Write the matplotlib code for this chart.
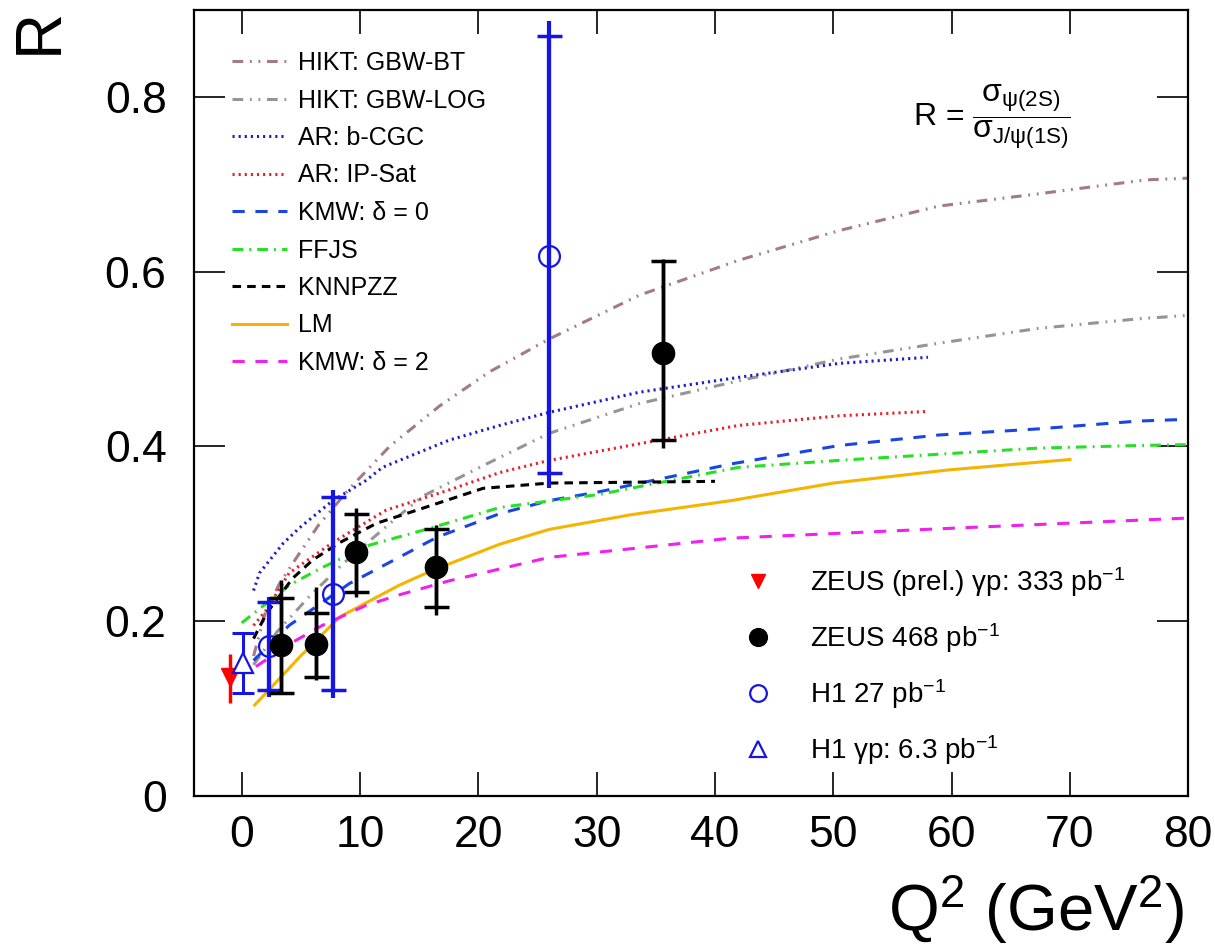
import matplotlib
matplotlib.use("Agg")
import matplotlib.pyplot as plt
import numpy as np

plt.rcParams['font.family'] = ['Liberation Sans', 'DejaVu Sans']
plt.rcParams['mathtext.fontset'] = 'custom'
plt.rcParams['mathtext.rm'] = 'Liberation Sans'
plt.rcParams['mathtext.it'] = 'Liberation Sans'
plt.rcParams['mathtext.bf'] = 'Liberation Sans:bold'

# ---------------- theory curves ----------------
bt_x = [1, 2, 3.2, 4.6, 6.5, 9, 12.5, 16.7, 20.9, 26, 33.6, 42, 50.5, 58.9, 67.3, 76.4, 80]
bt_y = [0.16, 0.21, 0.243, 0.272, 0.31, 0.35, 0.40, 0.446, 0.485, 0.523, 0.573, 0.613, 0.647, 0.675, 0.689, 0.705, 0.707]

log_x = [1, 3, 5.7, 8.5, 12.8, 15.3, 20.4, 26, 33.6, 42, 50.5, 58.9, 67.3, 75.8, 80]
log_y = [0.15, 0.188, 0.228, 0.265, 0.315, 0.343, 0.378, 0.415, 0.449, 0.475, 0.5, 0.518, 0.535, 0.546, 0.55]

cgc_x = [1, 1.5, 3.5, 4.9, 7.7, 10.5, 11.9, 17.5, 21.8, 26, 33.6, 42, 50.5, 58]
cgc_y = [0.235, 0.255, 0.289, 0.307, 0.338, 0.361, 0.376, 0.407, 0.424, 0.439, 0.462, 0.479, 0.495, 0.502]

ips_x = [1, 2.1, 4, 7.7, 12.2, 17.5, 21.8, 26, 33.6, 42, 50.5, 58]
ips_y = [0.195, 0.213, 0.255, 0.29, 0.327, 0.35, 0.37, 0.384, 0.403, 0.424, 0.435, 0.44]

kmw0_x = [1, 4, 9.1, 13.3, 16.5, 21.8, 26, 30.2, 41.4, 50.5, 58.9, 67.3, 75.8, 80]
kmw0_y = [0.155, 0.195, 0.243, 0.273, 0.296, 0.323, 0.338, 0.348, 0.38, 0.401, 0.413, 0.42, 0.429, 0.431]

ffjs_x = [0, 4, 6.6, 10.8, 16.1, 21.8, 30.2, 42, 50.5, 58.9, 67.3, 75.8, 80]
ffjs_y = [0.198, 0.241, 0.26, 0.287, 0.307, 0.33, 0.345, 0.376, 0.384, 0.391, 0.398, 0.401, 0.402]

knn_x = [1, 2.1, 4.3, 6, 8.3, 11.4, 14.8, 20.4, 26, 33, 40]
knn_y = [0.18, 0.209, 0.249, 0.27, 0.29, 0.312, 0.327, 0.352, 0.358, 0.359, 0.36]

lm_x = [1.1, 4.9, 8.3, 13.3, 16.1, 21.8, 26, 33, 41.4, 50, 59.7, 70]
lm_y = [0.104, 0.159, 0.205, 0.241, 0.258, 0.288, 0.305, 0.322, 0.338, 0.358, 0.373, 0.385]

kmw2_x = [1.2, 4.2, 6.8, 10.5, 13.3, 17.5, 26, 33, 41.4, 59.5, 80]
kmw2_y = [0.148, 0.175, 0.195, 0.218, 0.23, 0.246, 0.273, 0.283, 0.295, 0.306, 0.318]

# ---------------- data ----------------
zp_x = [-1.0]; zp_y = [0.136]; zp_lo = [0.106]; zp_hi = [0.162]

h1g_x = [0.1]; h1g_y = [0.152]; h1g_lo = [0.118]; h1g_hi = [0.186]

h1_x = [2.3, 7.7, 26.0]
h1_y = [0.171, 0.231, 0.618]
h1_tot_lo = [0.113, 0.112, 0.352]
h1_tot_hi = [0.228, 0.350, 0.887]
h1_st_lo = [0.121, 0.121, 0.370]
h1_st_hi = [0.222, 0.342, 0.870]

ze_x = [3.3, 6.25, 9.7, 16.4, 35.6]
ze_y = [0.173, 0.174, 0.279, 0.262, 0.507]
ze_tot_lo = [0.118, 0.133, 0.228, 0.207, 0.398]
ze_tot_hi = [0.247, 0.239, 0.330, 0.310, 0.615]
ze_st_lo = [0.118, 0.136, 0.233, 0.216, 0.407]
ze_st_hi = [0.226, 0.209, 0.323, 0.306, 0.612]

x_ticks = [0, 10, 20, 30, 40, 50, 60, 70, 80]
y_ticks = [0, 0.2, 0.4, 0.6, 0.8]
y_ticklabels = ['0', '0.2', '0.4', '0.6', '0.8']

fig = plt.figure(figsize=(12.15, 9.52), dpi=100)
ax = fig.add_axes([0.160, 0.164, 0.818, 0.826])
ax.set_xlim(-4, 80)
ax.set_ylim(0, 0.9)

lw = 2.2
curves = [
    (bt_x, bt_y, '#a37b84', (0, (3.5, 2.2, 0.6, 2.2, 0.6, 2.2)), 'HIKT: GBW-BT'),
    (log_x, log_y, '#959595', (0, (3.5, 2.2, 0.6, 2.2, 0.6, 2.2)), 'HIKT: GBW-LOG'),
    (cgc_x, cgc_y, '#1c1cc8', (0, (0.7, 1.3)), 'AR: b-CGC'),
    (ips_x, ips_y, '#e8202a', (0, (0.7, 1.3)), 'AR: IP-Sat'),
    (kmw0_x, kmw0_y, '#1a45e6', (0, (4, 3.5)), 'KMW: δ = 0'),
    (ffjs_x, ffjs_y, '#26e026', (0, (3.5, 2, 0.6, 2)), 'FFJS'),
    (knn_x, knn_y, '#000000', (0, (2.8, 2)), 'KNNPZZ'),
    (lm_x, lm_y, '#f4b400', '-', 'LM'),
    (kmw2_x, kmw2_y, '#f020f0', (0, (4, 3.5)), 'KMW: δ = 2'),
]
curve_handles = []
for cx, cy, col, ls, lab in curves:
    h, = ax.plot(cx, cy, color=col, lw=lw, ls=ls, label=lab, zorder=2)
    curve_handles.append(h)

# data: ZEUS prel (photoproduction)
zp = np.array(zp_y)
ax.errorbar(zp_x, zp_y, yerr=[zp - np.array(zp_lo), np.array(zp_hi) - zp], fmt='none',
            ecolor='#ff0000', elinewidth=2.5, capsize=0, zorder=4)
h_zp, = ax.plot(zp_x, zp_y, 'v', color='#ff0000', ms=13, zorder=5, ls='none')

# H1 gamma p
hg = np.array(h1g_y)
ax.errorbar(h1g_x, h1g_y, yerr=[hg - np.array(h1g_lo), np.array(h1g_hi) - hg], fmt='none',
            ecolor='#1515e6', elinewidth=2.2, capsize=8, capthick=2.2, zorder=4)
h_h1g, = ax.plot(h1g_x, h1g_y, '^', mfc='white', mec='#1515e6', mew=1.6, ms=15, zorder=5, ls='none')

# H1 27 pb-1
hy = np.array(h1_y)
ax.errorbar(h1_x, h1_y, yerr=[hy - np.array(h1_tot_lo), np.array(h1_tot_hi) - hy], fmt='none',
            ecolor='#1515e6', elinewidth=3, capsize=0, zorder=4)
ax.errorbar(h1_x, h1_y, yerr=[hy - np.array(h1_st_lo), np.array(h1_st_hi) - hy], fmt='none',
            ecolor='#1515e6', elinewidth=3, capsize=9, capthick=2.5, zorder=4)
h_h1, = ax.plot(h1_x, h1_y, 'o', mfc='none', mec='#1515e6', mew=1.6, ms=15, zorder=5, ls='none')

# ZEUS 468 pb-1
zy = np.array(ze_y)
ax.errorbar(ze_x, ze_y, yerr=[zy - np.array(ze_tot_lo), np.array(ze_tot_hi) - zy], fmt='none',
            ecolor='black', elinewidth=2.5, capsize=0, zorder=4)
ax.errorbar(ze_x, ze_y, yerr=[zy - np.array(ze_st_lo), np.array(ze_st_hi) - zy], fmt='none',
            ecolor='black', elinewidth=2.5, capsize=9, capthick=2.5, zorder=4)
h_ze, = ax.plot(ze_x, ze_y, 'o', color='black', ms=16, zorder=6, ls='none')

# axes styling
ax.set_xticks(x_ticks)
ax.set_yticks(y_ticks)
ax.set_yticklabels(y_ticklabels)
ax.tick_params(axis='both', which='major', direction='in', top=True, right=True,
               labelsize=32, width=1.2)
ax.tick_params(axis='x', length=17, pad=14)
ax.tick_params(axis='y', length=22, pad=20)
for sp in ax.spines.values():
    sp.set_linewidth(1.6)

fig.text(40 / 1215, 1 - 31 / 952, 'R', rotation=90, fontsize=46, ha='center', va='center')
fig.text(1184 / 1215, 1 - 910 / 952, 'Q$^2$ (GeV$^2$)', fontsize=47, ha='right', va='center')

ax.text(913 / 1215, 1 - 117 / 952, r'R = $\dfrac{\sigma_{\psi(2S)}}{\sigma_{J/\psi(1S)}}$',
        transform=fig.transFigure, fontsize=23, ha='left', va='center')

leg1 = ax.legend(handles=curve_handles, loc='upper left', bbox_to_anchor=(232 / 1215, 1 - 51 / 952),
                 bbox_transform=fig.transFigure, frameon=False, fontsize=18,
                 handlelength=2.2, handletextpad=0.44, labelspacing=0.54,
                 borderpad=0, borderaxespad=0)
ax.add_artist(leg1)

leg2 = ax.legend(handles=[h_zp, h_ze, h_h1, h_h1g],
                 labels=['ZEUS (prel.) γp: 333 pb$^{-1}$', 'ZEUS 468 pb$^{-1}$',
                         'H1 27 pb$^{-1}$', 'H1 γp: 6.3 pb$^{-1}$'],
                 loc='upper left', bbox_to_anchor=(744 / 1215, 1 - 565 / 952),
                 bbox_transform=fig.transFigure, frameon=False, fontsize=20,
                 handlelength=1.0, handletextpad=1.37, labelspacing=0.8,
                 borderpad=0, borderaxespad=0, markerscale=0.8)

fig.savefig('out.png', dpi=100)
